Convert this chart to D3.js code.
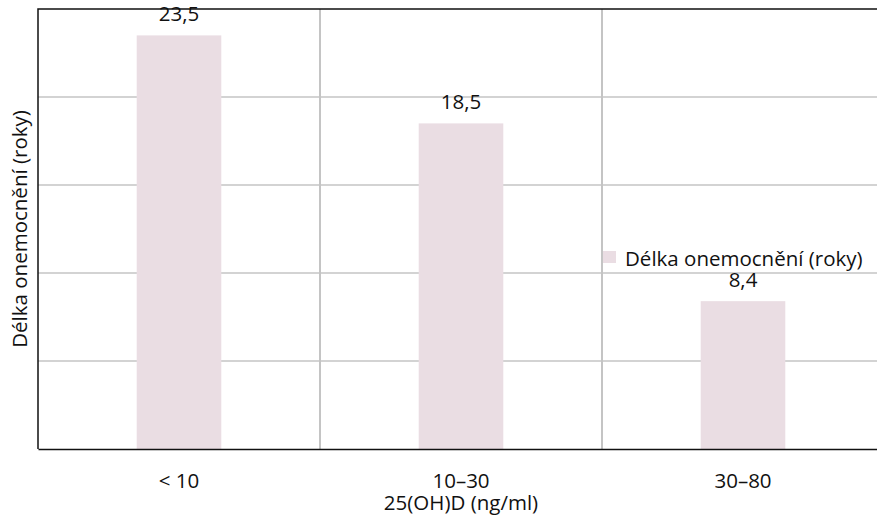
<!DOCTYPE html>
<html>
<head>
<meta charset="utf-8">
<script src="https://cdn.jsdelivr.net/npm/d3@7"></script>
<style>
  body { margin: 0; background: #fff; }
  text { font-family: "Open Sans", sans-serif; fill: #111; }
</style>
</head>
<body>
<div id="chart"></div>
<script>
// data
const categories = ['< 10', '10–30', '30–80'];
const values = [23.5, 18.5, 8.4];
const valueLabels = ['23,5', '18,5', '8,4'];
const seriesName = 'Délka onemocnění (roky)';
const xTitle = '25(OH)D (ng/ml)';
const yTitle = 'Délka onemocnění (roky)';
const yTicks = [5, 10, 15, 20];

const width = 877;
const height = 519;
const margin = {top: 9, right: -7, bottom: 70, left: 38};
const barColor = '#eadde3';
const fontSize = '20.5px';

const svg = d3.select('#chart')
    .append('svg')
        .attr('width', width)
        .attr('height', height);

const x = d3.scaleBand()
    .domain(categories)
    .range([margin.left, width - margin.right])
    .paddingInner(0)
    .paddingOuter(0);

const y = d3.scaleLinear()
    .domain([0, 25])
    .range([height - margin.bottom, margin.top]);

// horizontal gridlines
svg.append('g')
    .attr('stroke', '#c4c4c4')
    .attr('stroke-width', 1.5)
    .selectAll('line')
    .data(yTicks)
    .join('line')
        .attr('x1', margin.left)
        .attr('x2', width - margin.right)
        .attr('y1', d => y(d))
        .attr('y2', d => y(d));

// vertical gridlines between categories
svg.append('g')
    .attr('stroke', '#c4c4c4')
    .attr('stroke-width', 2)
    .selectAll('line')
    .data(categories.slice(1))
    .join('line')
        .attr('x1', d => x(d))
        .attr('x2', d => x(d))
        .attr('y1', y(25))
        .attr('y2', y(0));

// bars
const barWidth = x.bandwidth() * 0.3;
svg.append('g')
    .selectAll('rect')
    .data(values)
    .join('rect')
        .attr('x', (d, i) => x(categories[i]) + (x.bandwidth() - barWidth) / 2)
        .attr('y', d => y(d))
        .attr('width', barWidth)
        .attr('height', d => y(0) - y(d))
        .attr('fill', barColor);

// value labels
svg.append('g')
    .selectAll('text')
    .data(values)
    .join('text')
        .attr('x', (d, i) => x(categories[i]) + x.bandwidth() / 2)
        .attr('y', d => y(d) - 14)
        .attr('text-anchor', 'middle')
        .style('font-size', fontSize)
        .text((d, i) => valueLabels[i]);

// frame: left and top
svg.append('path')
    .attr('d', `M${margin.left},${y(0)}V${y(25)}H${width}`)
    .attr('fill', 'none')
    .attr('stroke', '#111')
    .attr('stroke-width', 1.5);

// x axis
const xAxis = svg.append('g')
    .attr('transform', `translate(0, ${y(0)})`)
    .call(d3.axisBottom(x).tickSize(0).tickPadding(24));
xAxis.select('.domain').attr('stroke', '#111').attr('stroke-width', 1.5);
xAxis.selectAll('text')
    .style('font-size', fontSize)
    .style('font-family', '"Open Sans", sans-serif')
    .attr('fill', '#111');

// axis titles
svg.append('text')
    .attr('x', x(categories[1]) + x.bandwidth() / 2)
    .attr('y', 510)
    .attr('text-anchor', 'middle')
    .style('font-size', fontSize)
    .text(xTitle);

svg.append('text')
    .attr('transform', `translate(27, ${(y(0) + y(25)) / 2}) rotate(-90)`)
    .attr('text-anchor', 'middle')
    .style('font-size', fontSize)
    .text(yTitle);

// legend
const legend = svg.append('g')
    .attr('transform', 'translate(603, 251)');
legend.append('rect')
    .attr('width', 13)
    .attr('height', 12)
    .attr('fill', barColor);
legend.append('text')
    .attr('x', 22)
    .attr('y', 15)
    .style('font-size', fontSize)
    .text(seriesName);
</script>
</body>
</html>
